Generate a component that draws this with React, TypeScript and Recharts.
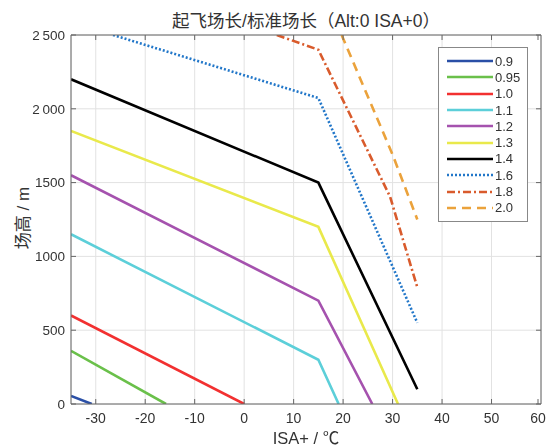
import { LineChart, Line, XAxis, YAxis, CartesianGrid } from "recharts";

const NAMES = ["0.9", "0.95", "1.0", "1.1", "1.2", "1.3", "1.4", "1.6", "1.8", "2.0"];
const COLORS = ["#2a4fa6", "#6ac04a", "#f23030", "#5ccfd9", "#a552ae", "#e9e94b", "#000000", "#2277c9", "#d95b2c", "#eba23b"];
const DASHES = ["", "", "", "", "", "", "", "2 2", "8 3 2 3", "9 6"];

// temperature (ISA+) per series
const XS = [
  [-35, -30.8],
  [-35, -15.8],
  [-35, 0],
  [-35, 15, 19.1],
  [-35, 15, 25.9],
  [-35, 15, 31.1],
  [-35, 15, 35],
  [-26.5, 15, 35],
  [6.6, 15, 29.5, 35],
  [19.7, 30, 35],
];
// field elevation per series
const YS = [
  [55, 0],
  [360, 0],
  [600, 0],
  [1150, 300, 0],
  [1550, 700, 0],
  [1850, 1200, 0],
  [2200, 1500, 100],
  [2500, 2073, 550],
  [2500, 2400, 1404, 790],
  [2500, 1690, 1250],
];

const X_TICKS = [-30, -20, -10, 0, 10, 20, 30, 40, 50, 60];
const Y_TICKS = [0, 500, 1000, 1500, 2000, 2500];

const FONT = "'Liberation Sans', Arial, 'Noto Sans CJK SC', sans-serif";
const AXIS = "#666";
const TEXT = "#333";

const series = NAMES.map((name, i) => ({
  name,
  color: COLORS[i],
  dash: DASHES[i],
  data: XS[i].map((x, j) => ({ x, y: YS[i][j] })),
}));

const fmtY = (v: number) => (v >= 2000 ? String(v).replace(/^(\d)/, "$1\u2009") : String(v));

// eslint-disable-next-line @typescript-eslint/no-explicit-any
function XTick({ x, y, payload }: any) {
  return (
    <g>
      <line x1={x} x2={x} y1={y} y2={y - 5} stroke={AXIS} />
      <text x={x} y={y + 19} textAnchor="middle" fontSize={14} fill={TEXT} fontFamily={FONT}>
        {payload.value}
      </text>
    </g>
  );
}

// eslint-disable-next-line @typescript-eslint/no-explicit-any
function YTick({ x, y, payload }: any) {
  return (
    <g>
      <line x1={x} x2={x + 5} y1={y} y2={y} stroke={AXIS} />
      <text x={x - 6} y={y} dy="0.35em" textAnchor="end" fontSize={13.5} fill={TEXT} fontFamily={FONT}>
        {fmtY(payload.value)}
      </text>
    </g>
  );
}

// eslint-disable-next-line @typescript-eslint/no-explicit-any
function TopTick({ x, y }: any) {
  return <line x1={x} x2={x} y1={y} y2={y + 5} stroke={AXIS} />;
}

// eslint-disable-next-line @typescript-eslint/no-explicit-any
function RightTick({ x, y }: any) {
  return <line x1={x} x2={x - 5} y1={y} y2={y} stroke={AXIS} />;
}

function LegendBox() {
  return (
    <div
      style={{
        position: "absolute",
        top: 47,
        left: 438,
        border: "1px solid #888",
        background: "#fff",
        padding: "5px 0 5px 8px",
        fontFamily: FONT,
        fontSize: 13,
        color: TEXT,
        width: 80,
      }}
    >
      {series.map((s) => (
        <div key={s.name} style={{ display: "flex", alignItems: "center", height: 16.3 }}>
          <svg width={46} height={6} style={{ marginRight: 2 }}>
            <line x1={0} x2={46} y1={3} y2={3} stroke={s.color} strokeWidth={2.5} strokeDasharray={s.dash || undefined} />
          </svg>
          <span>{s.name}</span>
        </div>
      ))}
    </div>
  );
}

export default function App() {
  return (
    <div style={{ position: "fixed", left: 0, top: 0, width: 546, height: 446, background: "#fff", fontFamily: FONT }}>
      <div
        style={{
          position: "absolute",
          top: 7,
          left: 41,
          width: 530,
          textAlign: "center",
          fontSize: 17.5,
          color: TEXT,
          whiteSpace: "nowrap",
        }}
      >
        起飞场长/标准场长（Alt:0 ISA+0）
      </div>
      <div
        style={{
          position: "absolute",
          left: 21,
          top: 218,
          transform: "translate(-50%, -50%) rotate(-90deg)",
          fontSize: 17,
          color: TEXT,
          whiteSpace: "nowrap",
        }}
      >
        场高 / m
      </div>
      <div
        style={{
          position: "absolute",
          top: 425,
          left: 71,
          width: 470,
          textAlign: "center",
          fontSize: 16.5,
          color: TEXT,
        }}
      >
        ISA+ / ℃
      </div>
      <LineChart width={546} height={446} margin={{ top: 34, right: 0, left: 0, bottom: 0 }}>
        <CartesianGrid stroke="#e2e2e2" strokeWidth={1} />
        <XAxis
          type="number"
          dataKey="x"
          domain={[-35, 60]}
          ticks={X_TICKS}
          allowDataOverflow
          height={42}
          tickSize={0}
          tickMargin={0}
          tick={<XTick />}
          axisLine={{ stroke: AXIS }}
          tickLine={false}
        />
        <XAxis
          xAxisId="top"
          orientation="top"
          type="number"
          dataKey="x"
          domain={[-35, 60]}
          ticks={X_TICKS}
          allowDataOverflow
          height={1}
          tickSize={0}
          tickMargin={0}
          tick={<TopTick />}
          axisLine={{ stroke: AXIS }}
          tickLine={false}
        />
        <YAxis
          type="number"
          domain={[0, 2500]}
          ticks={Y_TICKS}
          allowDataOverflow
          width={71}
          tickSize={0}
          tickMargin={0}
          tick={<YTick />}
          axisLine={{ stroke: AXIS }}
          tickLine={false}
        />
        <YAxis
          yAxisId="right"
          orientation="right"
          type="number"
          domain={[0, 2500]}
          ticks={Y_TICKS}
          allowDataOverflow
          width={5}
          tickSize={0}
          tickMargin={0}
          tick={<RightTick />}
          axisLine={{ stroke: AXIS }}
          tickLine={false}
        />
        {series.map((s) => (
          <Line
            key={s.name}
            name={s.name}
            data={s.data}
            dataKey="y"
            type="linear"
            stroke={s.color}
            strokeWidth={2.6}
            strokeDasharray={s.dash || undefined}
            dot={false}
            activeDot={false}
            isAnimationActive={false}
          />
        ))}
      </LineChart>
      <LegendBox />
    </div>
  );
}
